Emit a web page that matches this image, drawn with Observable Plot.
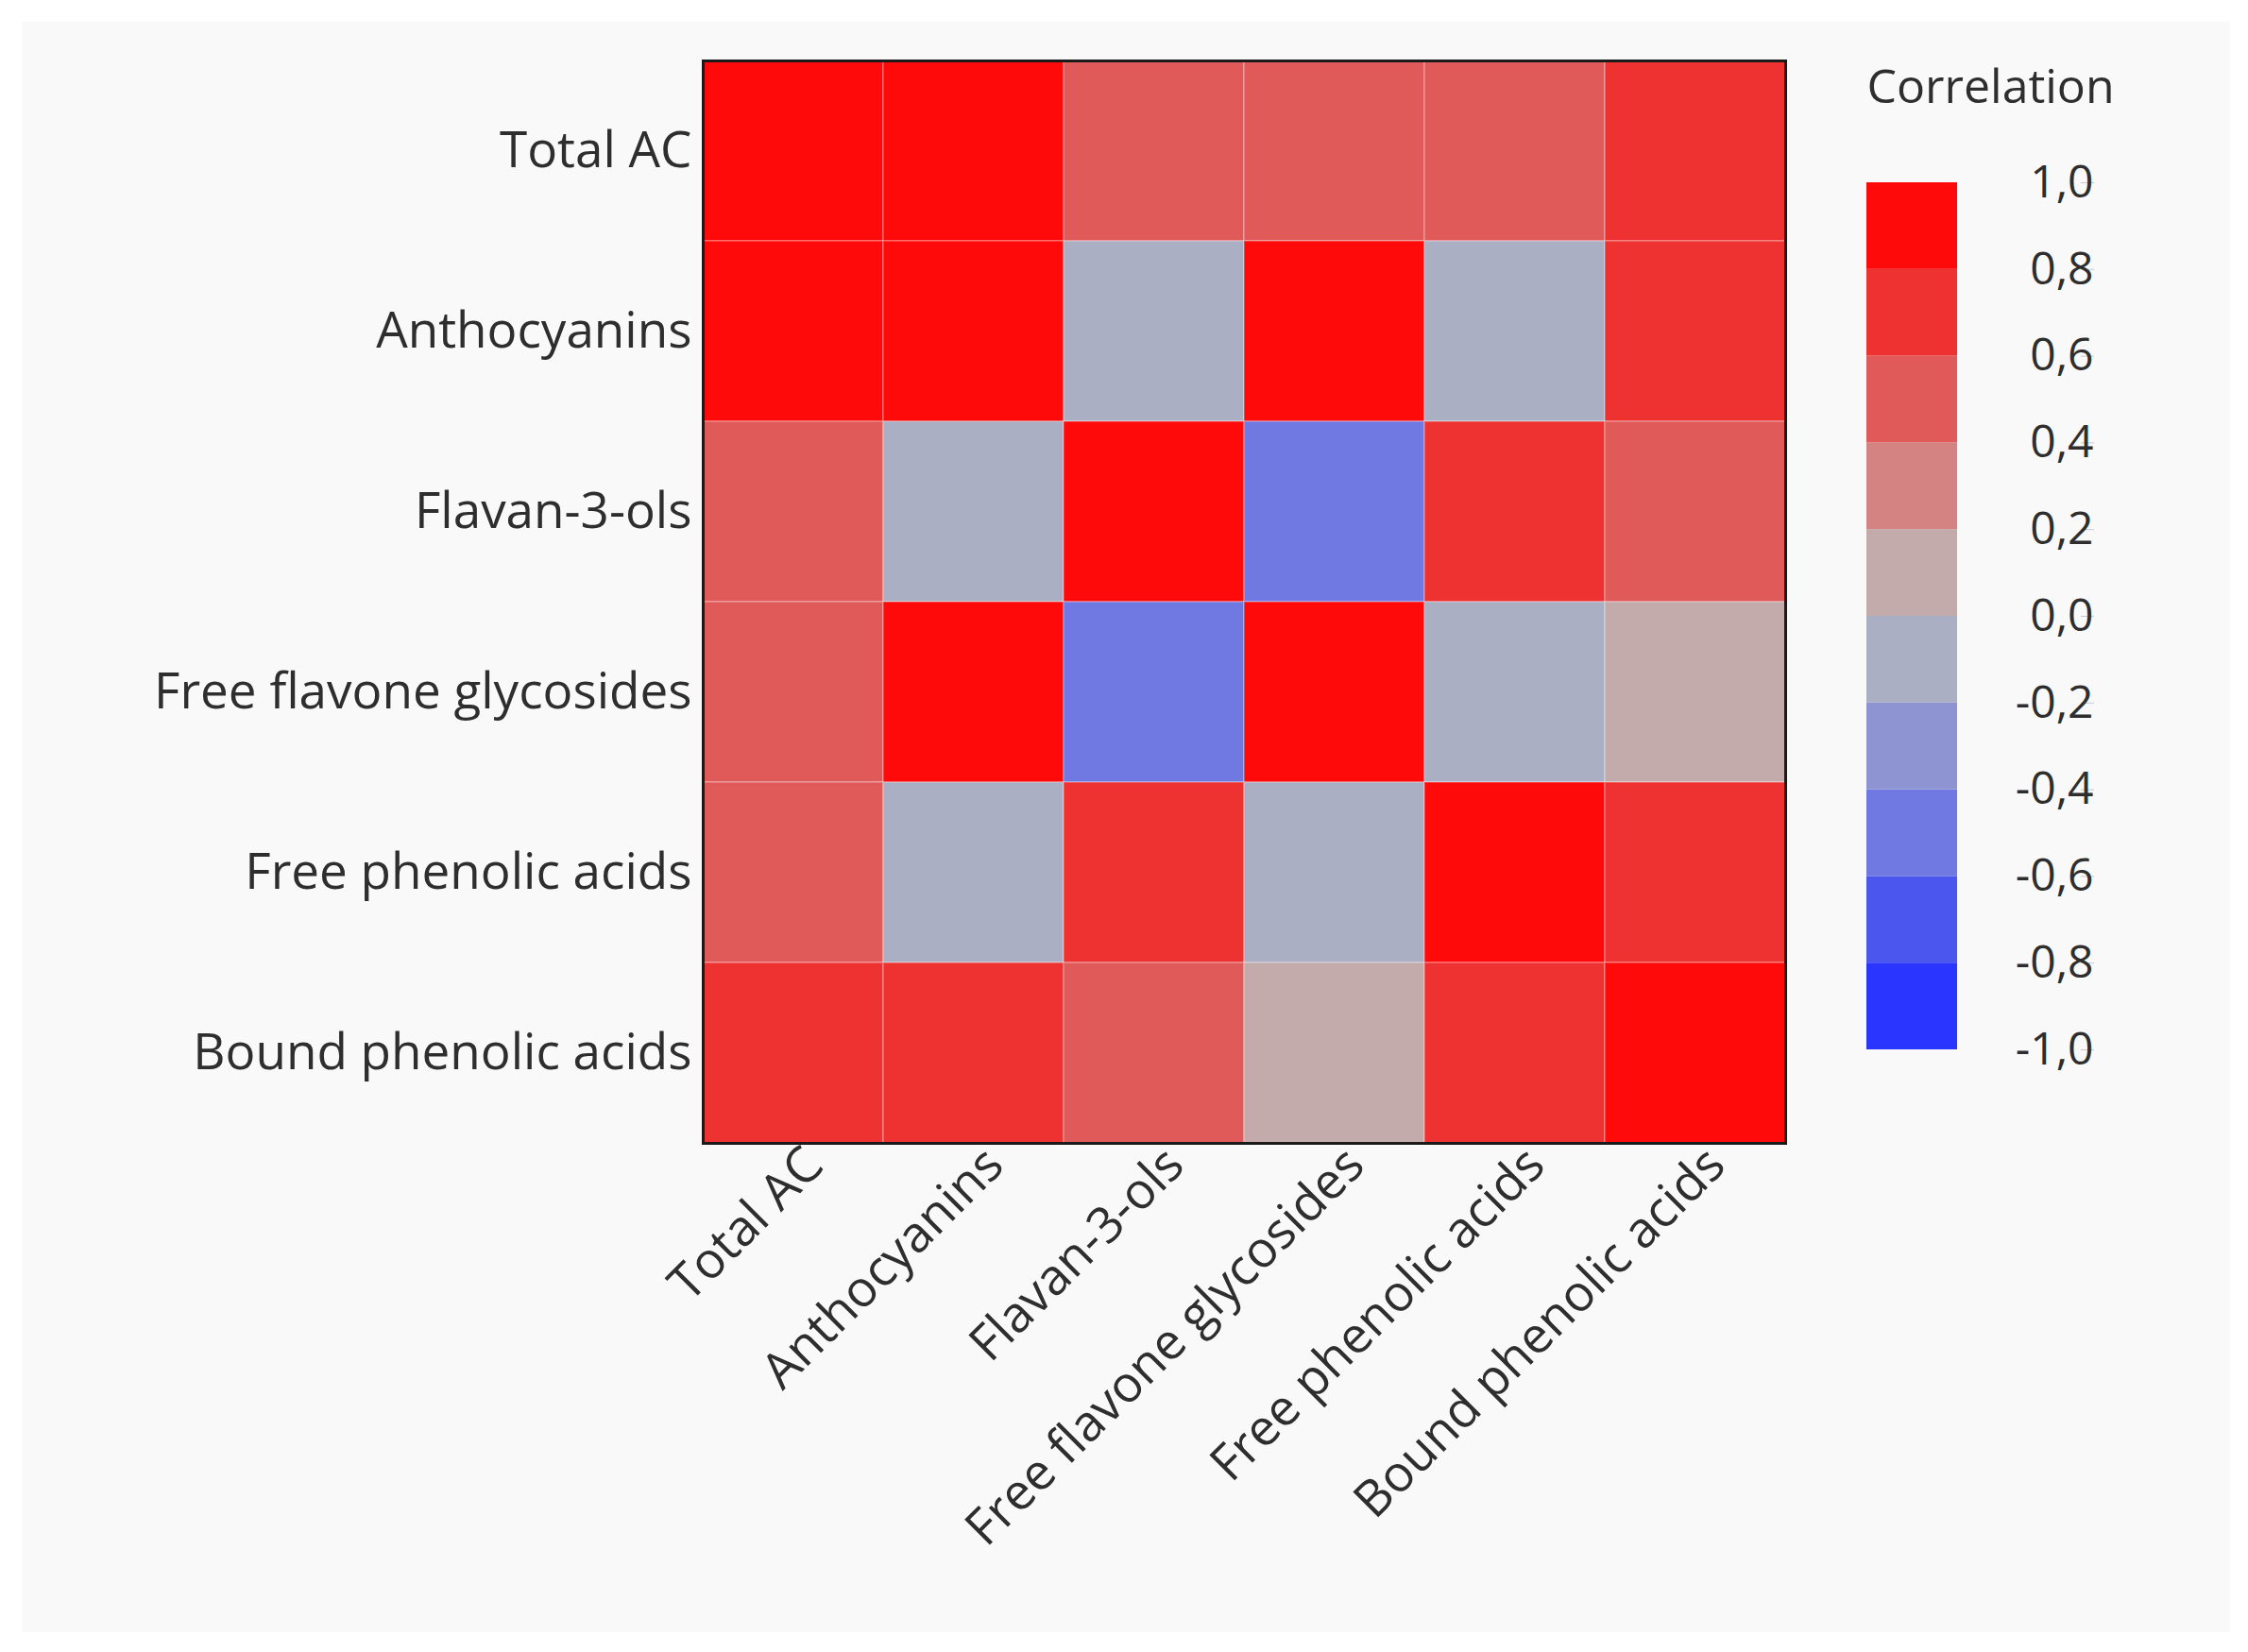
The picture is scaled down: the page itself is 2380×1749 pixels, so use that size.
<!DOCTYPE html>
<html>
<head>
<meta charset="utf-8">
<script src="https://cdn.jsdelivr.net/npm/d3@7"></script>
<script src="https://cdn.jsdelivr.net/npm/@observablehq/plot@0.6"></script>
<style>
  html, body { margin: 0; padding: 0; background: #ffffff; }
  #page { position: relative; width: 2380px; height: 1749px; overflow: hidden; }
  #bg { position: absolute; left: 23px; top: 23px; width: 2338px; height: 1705px; background: #f9f9f9; }
  #main, #legend { position: absolute; top: 0; }
  #main { left: 0; }
  #legend { left: 1900px; }
  svg { font-family: "Open Sans", "Noto Sans", sans-serif; }
</style>
</head>
<body>
<div id="page">
  <div id="bg"></div>
  <div id="main"></div>
  <div id="legend"></div>
</div>
<script>
// ---- data ----
const variables = ["Total AC", "Anthocyanins", "Flavan-3-ols", "Free flavone glycosides", "Free phenolic acids", "Bound phenolic acids"];
const rowTotalAC      = [1.00, 0.95, 0.47, 0.52, 0.49, 0.71];
const rowAnthocyanins = [0.95, 1.00, -0.12, 0.88, -0.08, 0.68];
const rowFlavanols    = [0.47, -0.12, 1.00, -0.52, 0.66, 0.45];
const rowFreeFlavone  = [0.52, 0.88, -0.52, 1.00, -0.15, 0.11];
const rowFreePhenolic = [0.49, -0.08, 0.66, -0.15, 1.00, 0.73];
const rowBoundPhenolic= [0.71, 0.68, 0.45, 0.11, 0.73, 1.00];
const legendTicks = [-1, -0.8, -0.6, -0.4, -0.2, 0, 0.2, 0.4, 0.6, 0.8, 1];
const binColors = ["#2a36ff", "#4b56ee", "#7078e2", "#8e93d2", "#abafc3", "#c4abab", "#d58282", "#e05a5a", "#ee3232", "#ff0a0a"];
const legendTitle = "Correlation";

const rows = [rowTotalAC, rowAnthocyanins, rowFlavanols, rowFreeFlavone, rowFreePhenolic, rowBoundPhenolic];
const cells = [];
rows.forEach((r, i) => r.forEach((v, j) => cells.push({row: variables[i], col: variables[j], value: v})));

const thresholds = legendTicks.slice(1, -1);
const colorScale = {type: "threshold", domain: thresholds, range: binColors};
const fmt = d3.format(".1f");
const commaFmt = d => fmt(d).replace(".", ",").replace("\u2212", "-");

const fontSize = 53;
const textColor = "#2e2e2e";

// ---- main heatmap ----
const main = Plot.plot({
  width: 1960,
  height: 1749,
  marginLeft: 744,
  marginRight: 70,
  marginTop: 64,
  marginBottom: 539,
  style: {background: "transparent", fontSize: fontSize + "px", color: textColor},
  x: {domain: variables, padding: 0, label: null},
  y: {domain: variables, padding: 0, label: null},
  color: colorScale,
  marks: [
    Plot.cell(cells, {x: "col", y: "row", fill: "value", stroke: "rgba(255,255,255,0.22)", strokeWidth: 2}),
    Plot.frame({stroke: "#1a1a1a", strokeWidth: 3}),
    Plot.axisY({anchor: "left", tickSize: 0, tickPadding: 12, fontSize: fontSize, fill: textColor, label: null}),
    Plot.axisX({anchor: "bottom", tickSize: 0, tickRotate: -45, tickPadding: 14, dx: 22, fontSize: fontSize, fill: textColor, label: null})
  ]
});
document.getElementById("main").appendChild(main);

// ---- legend ----
const bins = binColors.map((c, i) => ({lo: legendTicks[i], hi: legendTicks[i + 1], mid: (legendTicks[i] + legendTicks[i + 1]) / 2}));
const legend = Plot.plot({
  width: 400,
  height: 1749,
  marginLeft: 76,
  marginRight: 228,
  marginTop: 193,
  marginBottom: 638,
  style: {background: "transparent", fontSize: "48px", color: textColor},
  y: {domain: [-1, 1], label: null},
  color: colorScale,
  marks: [
    Plot.rectY(bins, {y1: "lo", y2: "hi", fill: "mid"}),
    Plot.axisY({anchor: "right", ticks: legendTicks, tickFormat: commaFmt, tickSize: 14, tickPadding: 0, stroke: "#c8c8c8", textAnchor: "end", dx: 130, fontSize: 48, fill: textColor, label: null}),
    Plot.text([legendTitle], {frameAnchor: "top-left", dy: -120, text: d => d, fontSize: 50, fill: textColor, textAnchor: "start"})
  ]
});
document.getElementById("legend").appendChild(legend);
</script>
</body>
</html>
